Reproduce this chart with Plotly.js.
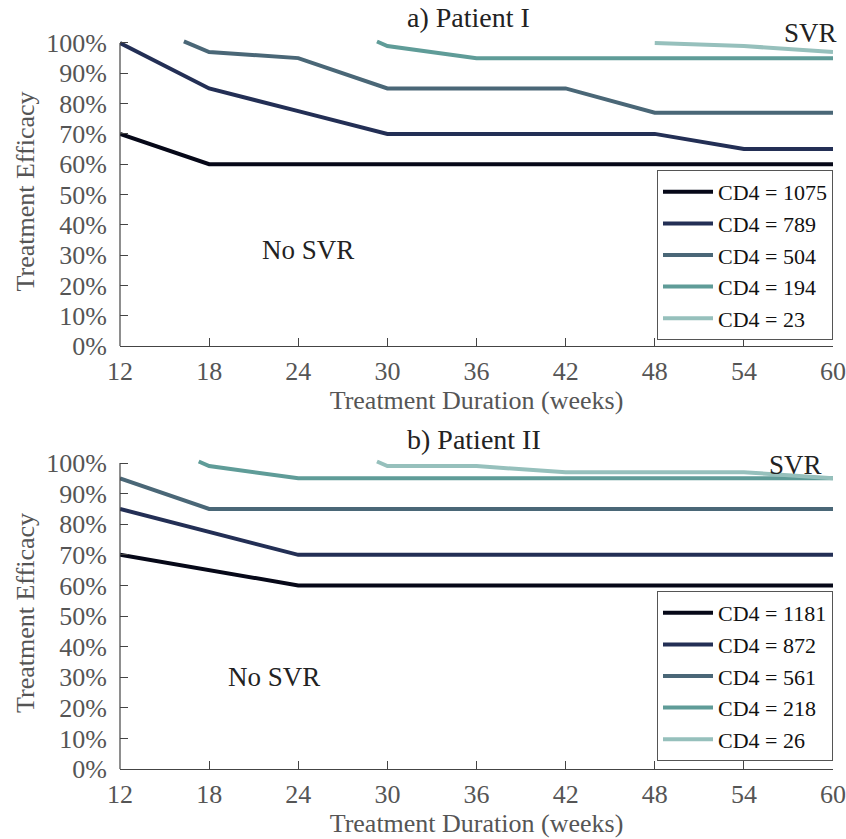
<!DOCTYPE html>
<html>
<head>
<meta charset="utf-8">
<script src="https://cdn.plot.ly/plotly-3.0.1.min.js"></script>
<style>html,body{margin:0;padding:0;background:#fff;}#chart{width:846px;height:839px;}</style>
</head>
<body>
<div id="chart"></div>
<script>
// ---- Data ----
const colors = ['#060818', '#232f55', '#4a6777', '#5f9c98', '#96c0bc'];

// Panel a) Patient I
const labelsA = ['CD4 = 1075', 'CD4 = 789', 'CD4 = 504', 'CD4 = 194', 'CD4 = 23'];
const weeksA1075 = [12, 18, 24, 30, 36, 42, 48, 54, 60];
const effA1075   = [70, 60, 60, 60, 60, 60, 60, 60, 60];
const weeksA789  = [12, 18, 24, 30, 36, 42, 48, 54, 60];
const effA789    = [100, 85, 77.5, 70, 70, 70, 70, 65, 65];
const weeksA504  = [16.3, 18, 24, 30, 36, 42, 48, 54, 60];
const effA504    = [100.5, 97, 95, 85, 85, 85, 77, 77, 77];
const weeksA194  = [29.3, 30, 36, 42, 48, 54, 60];
const effA194    = [100.5, 99, 95, 95, 95, 95, 95];
const weeksA23   = [48, 54, 60];
const effA23     = [100, 99, 97];

// Panel b) Patient II
const labelsB = ['CD4 = 1181', 'CD4 = 872', 'CD4 = 561', 'CD4 = 218', 'CD4 = 26'];
const weeksB1181 = [12, 18, 24, 30, 36, 42, 48, 54, 60];
const effB1181   = [70, 65, 60, 60, 60, 60, 60, 60, 60];
const weeksB872  = [12, 18, 24, 30, 36, 42, 48, 54, 60];
const effB872    = [85, 77.5, 70, 70, 70, 70, 70, 70, 70];
const weeksB561  = [12, 18, 24, 30, 36, 42, 48, 54, 60];
const effB561    = [95, 85, 85, 85, 85, 85, 85, 85, 85];
const weeksB218  = [17.3, 18, 24, 30, 36, 42, 48, 54, 60];
const effB218    = [100.5, 99, 95, 95, 95, 95, 95, 95, 95];
const weeksB26   = [29.3, 30, 36, 42, 48, 54, 60];
const effB26     = [100.5, 99, 99, 97, 97, 97, 95];

const xTicks = [12, 18, 24, 30, 36, 42, 48, 54, 60];
const yTicks = [0, 10, 20, 30, 40, 50, 60, 70, 80, 90, 100];
const yTickText = yTicks.map(v => v + '%');

// ---- Build traces ----
const seriesA = [[weeksA1075, effA1075], [weeksA789, effA789], [weeksA504, effA504], [weeksA194, effA194], [weeksA23, effA23]];
const seriesB = [[weeksB1181, effB1181], [weeksB872, effB872], [weeksB561, effB561], [weeksB218, effB218], [weeksB26, effB26]];

const traces = [];
seriesA.forEach((s, i) => traces.push({
  x: s[0], y: s[1], type: 'scatter', mode: 'lines', name: labelsA[i],
  line: {color: colors[i], width: 4}, xaxis: 'x', yaxis: 'y', legend: 'legend'
}));
seriesB.forEach((s, i) => traces.push({
  x: s[0], y: s[1], type: 'scatter', mode: 'lines', name: labelsB[i],
  line: {color: colors[i], width: 4}, xaxis: 'x2', yaxis: 'y2', legend: 'legend2'
}));

const FONT = 'Liberation Serif, Times New Roman, serif';
const tickFont = {family: FONT, size: 26, color: '#555555'};
const titleFont = {family: FONT, size: 26, color: '#555555'};
const textFont = {family: FONT, size: 27, color: '#222'};

function xAxis(anchor) {
  return {
    domain: [0, 1], anchor: anchor, range: [12, 60],
    tickmode: 'array', tickvals: xTicks, ticktext: xTicks.map(String),
    ticks: 'inside', ticklen: 8, tickwidth: 1, tickcolor: '#444',
    showline: true, linecolor: '#444', linewidth: 1.2,
    showgrid: false, zeroline: false, tickfont: tickFont, ticklabelstandoff: 2,
    title: {text: 'Treatment Duration (weeks)', font: titleFont, standoff: 2}
  };
}
function yAxis(anchor, domain) {
  return {
    domain: domain, anchor: anchor, range: [0, 102],
    tickmode: 'array', tickvals: yTicks, ticktext: yTickText,
    ticks: 'inside', ticklen: 8, tickwidth: 1, tickcolor: '#444',
    showline: false, showgrid: false, zeroline: false,
    tickfont: tickFont, ticklabelstandoff: 12,
    title: {text: 'Treatment Efficacy', font: titleFont, standoff: 4}
  };
}

const legendBase = {
  font: {family: FONT, size: 22, color: '#111'},
  bgcolor: '#ffffff', bordercolor: '#555', borderwidth: 1,
  xanchor: 'right', yanchor: 'top', x: 1, tracegroupgap: 0, itemwidth: 50
};

const layout = {
  width: 846, height: 839,
  margin: {l: 120, r: 13, t: 0, b: 0},
  paper_bgcolor: '#fff', plot_bgcolor: '#fff',
  showlegend: true,
  xaxis: xAxis('y'),
  yaxis: yAxis('x', [0.5876, 0.9560]),
  xaxis2: xAxis('y2'),
  yaxis2: yAxis('x2', [0.0834, 0.4554]),
  legend: Object.assign({}, legendBase, {y: 1 - 170 / 839}),
  legend2: Object.assign({}, legendBase, {y: 1 - 591 / 839}),
  shapes: [
    {type: 'line', xref: 'x domain', yref: 'y', x0: 0, x1: 0, y0: 0, y1: 100, line: {color: '#444', width: 1.2}},
    {type: 'line', xref: 'x2 domain', yref: 'y2', x0: 0, x1: 0, y0: 0, y1: 100, line: {color: '#444', width: 1.2}}
  ],
  annotations: [
    {text: 'a) Patient I', xref: 'paper', yref: 'paper', x: (468 - 120) / 713, y: 1 - 18 / 839, xanchor: 'center', yanchor: 'middle', showarrow: false, font: {family: FONT, size: 28, color: '#222'}},
    {text: 'b) Patient II', xref: 'paper', yref: 'paper', x: (474 - 120) / 713, y: 1 - 439 / 839, xanchor: 'center', yanchor: 'middle', showarrow: false, font: {family: FONT, size: 28, color: '#222'}},
    {text: 'No SVR', xref: 'x', yref: 'y', x: 24.66, y: 31.7, showarrow: false, font: textFont},
    {text: 'SVR', xref: 'paper', yref: 'paper', x: (810 - 120) / 713, y: 1 - 33 / 839, xanchor: 'center', yanchor: 'middle', showarrow: false, font: textFont},
    {text: 'No SVR', xref: 'x2', yref: 'y2', x: 22.4, y: 30, showarrow: false, font: textFont},
    {text: 'SVR', xref: 'x2', yref: 'y2', x: 57.5, y: 99.3, showarrow: false, font: textFont}
  ]
};

Plotly.newPlot('chart', traces, layout, {displayModeBar: false, staticPlot: true});
</script>
</body>
</html>
